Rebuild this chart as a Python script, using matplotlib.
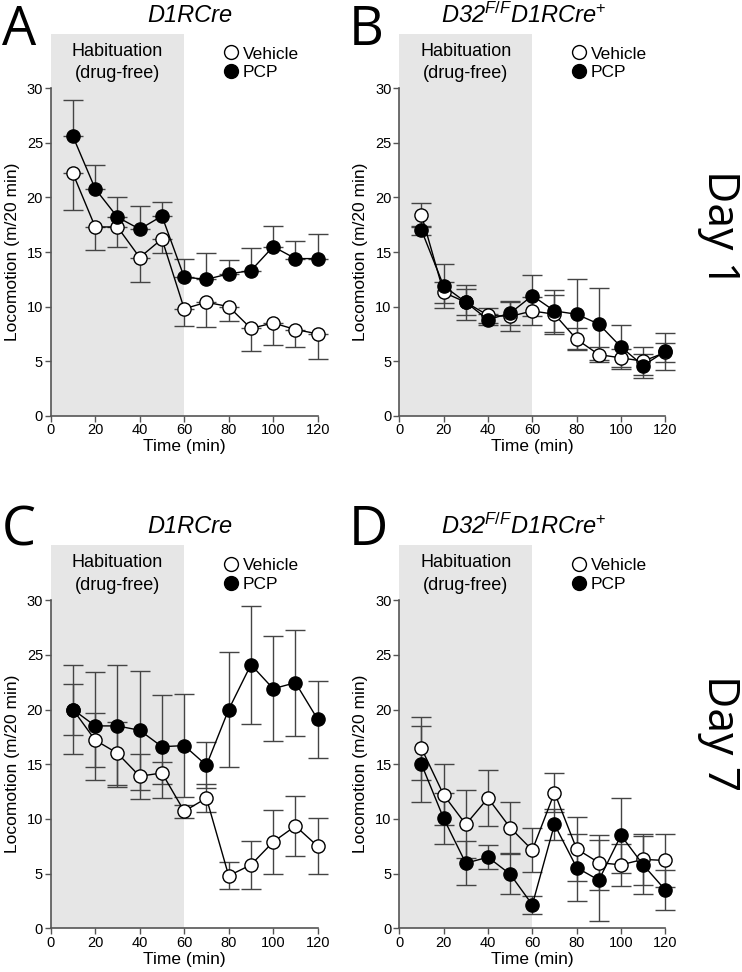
import matplotlib
matplotlib.use("Agg")
import matplotlib.pyplot as plt
from matplotlib.lines import Line2D
import numpy as np

plt.rcParams['font.family'] = ['Liberation Sans', 'DejaVu Sans']
plt.rcParams['mathtext.fontset'] = 'custom'
plt.rcParams['mathtext.it'] = 'Liberation Sans:italic'
plt.rcParams['mathtext.rm'] = 'Liberation Sans'

time_min = [10, 20, 30, 40, 50, 60, 70, 80, 90, 100, 110, 120]
x_ticks = [0, 20, 40, 60, 80, 100, 120]
y_ticks = [0, 5, 10, 15, 20, 25, 30]

# Panel A: D1RCre, Day 1
a_vehicle = [22.2, 17.3, 17.3, 14.5, 16.2, 9.8, 10.4, 10.0, 8.0, 8.5, 7.9, 7.5]
a_vehicle_err = [3.3, 2.1, 1.8, 2.2, 1.3, 1.6, 2.3, 1.35, 2.1, 2.0, 1.6, 2.3]
a_pcp = [25.6, 20.8, 18.2, 17.1, 18.3, 12.7, 12.5, 13.0, 13.3, 15.5, 14.4, 14.4]
a_pcp_err = [3.3, 2.2, 1.8, 2.1, 1.3, 1.7, 2.4, 1.3, 2.1, 1.9, 1.6, 2.3]

# Panel B: D32F/F D1RCre+, Day 1
b_vehicle = [18.4, 11.3, 10.4, 9.2, 9.1, 9.6, 9.3, 7.0, 5.6, 5.3, 5.0, 5.8]
b_vehicle_err = [1.1, 1.0, 1.2, 0.7, 1.3, 1.3, 1.8, 1.0, 0.7, 0.8, 1.3, 0.9]
b_pcp = [17.0, 11.9, 10.4, 8.8, 9.4, 11.0, 9.6, 9.3, 8.4, 6.3, 4.6, 5.9]
b_pcp_err = [0.4, 2.0, 1.6, 0.5, 1.1, 1.9, 1.9, 3.2, 3.3, 2.0, 1.1, 1.7]

# Panel C: D1RCre, Day 7
c_vehicle = [20.0, 17.2, 16.0, 13.9, 14.2, 10.7, 11.9, 4.8, 5.8, 7.9, 9.35, 7.5]
c_vehicle_err = [2.3, 2.5, 2.9, 2.05, 1.0, 0.6, 1.3, 1.25, 2.2, 2.95, 2.7, 2.55]
c_pcp = [20.0, 18.5, 18.5, 18.1, 16.6, 16.7, 14.9, 20.0, 24.1, 21.9, 22.45, 19.1]
c_pcp_err = [4.1, 4.9, 5.6, 5.45, 4.7, 4.7, 2.1, 5.3, 5.4, 4.8, 4.85, 3.55]

# Panel D: D32F/F D1RCre+, Day 7
d_vehicle = [16.45, 12.2, 9.5, 11.9, 9.2, 7.15, 12.4, 7.25, 6.0, 5.8, 6.3, 6.2]
d_vehicle_err = [2.85, 2.8, 3.1, 2.55, 2.35, 2.0, 1.8, 2.9, 2.5, 1.9, 2.3, 2.4]
d_pcp = [15.0, 10.05, 5.95, 6.5, 4.95, 2.15, 9.5, 5.55, 4.4, 8.5, 5.8, 3.5]
d_pcp_err = [3.5, 2.3, 2.0, 1.1, 1.8, 0.8, 1.45, 3.1, 3.7, 3.45, 2.65, 1.8]

titles = ['D1RCre', r'D32$^{F/F}$D1RCre$^{+}$', 'D1RCre', r'D32$^{F/F}$D1RCre$^{+}$']
letters = ['A', 'B', 'C', 'D']
day_labels = ['Day 1', 'Day 7']

W, H = 742, 972
fig = plt.figure(figsize=(W / 100, H / 100), dpi=100)

XMAX, YMAX = 125, 35

def axes_at(x0_px, x_per_min, y0_px, y_per_unit):
    left = x0_px / W
    width = XMAX * x_per_min / W
    bottom = (H - y0_px) / H
    height = YMAX * y_per_unit / H
    return fig.add_axes([left, bottom, width, height])

axA = axes_at(50.7, 2.225, 415.7, 10.91)
axB = axes_at(399.3, 2.217, 415.7, 10.91)
axC = axes_at(50.7, 2.225, 928.3, 10.94)
axD = axes_at(399.3, 2.217, 928.3, 10.94)

panels = [
    (axA, a_vehicle, a_vehicle_err, a_pcp, a_pcp_err, True),
    (axB, b_vehicle, b_vehicle_err, b_pcp, b_pcp_err, False),
    (axC, c_vehicle, c_vehicle_err, c_pcp, c_pcp_err, False),
    (axD, d_vehicle, d_vehicle_err, d_pcp, d_pcp_err, False),
]

spine_col = '#555555'
err_col = '#444444'

for i, (ax, v, ve, p, pe, one_sided) in enumerate(panels):
    ax.set_xlim(0, XMAX)
    ax.set_ylim(0, YMAX)
    ax.axvspan(0, 60, color='#e6e6e6', zorder=0, lw=0)
    ve = np.array(ve)
    pe = np.array(pe)
    if one_sided:
        v_yerr = [ve, np.zeros_like(ve)]
        p_yerr = [np.zeros_like(pe), pe]
    else:
        v_yerr = ve
        p_yerr = pe
    ax.errorbar(time_min, v, yerr=v_yerr, fmt='none', ecolor=err_col,
                elinewidth=1.0, capsize=7, capthick=1.0, zorder=2, clip_on=False)
    ax.errorbar(time_min, p, yerr=p_yerr, fmt='none', ecolor=err_col,
                elinewidth=1.0, capsize=7, capthick=1.0, zorder=2, clip_on=False)
    ax.plot(time_min, v, '-', color='black', lw=1.0, zorder=3,
            marker='o', ms=9.5, mfc='white', mec='black', mew=1.0, clip_on=False)
    ax.plot(time_min, p, '-', color='black', lw=1.0, zorder=4,
            marker='o', ms=9.5, mfc='black', mec='black', mew=1.0, clip_on=False)

    for s in ['top', 'right']:
        ax.spines[s].set_visible(False)
    for s in ['left', 'bottom']:
        ax.spines[s].set_color(spine_col)
        ax.spines[s].set_linewidth(1.2)
    ax.spines['left'].set_bounds(0, 30)
    ax.spines['bottom'].set_bounds(0, 120)
    ax.set_xticks(x_ticks)
    ax.set_yticks(y_ticks)
    ax.tick_params(direction='out', length=4, width=1.0, color=spine_col,
                   labelsize=10.5, pad=1.5)
    ax.set_xlabel('Time (min)', fontsize=12.5)
    ax.set_ylabel('Locomotion (m/20 min)', fontsize=12.5)
    ax.xaxis.set_label_coords(60 / XMAX, -0.062)
    ax.yaxis.set_label_coords(-0.112, 15 / YMAX)

    ax.text(30, 33.4, 'Habituation', ha='center', va='center', fontsize=13)
    ax.text(30, 31.35, '(drug-free)', ha='center', va='center', fontsize=13)

    handles = [Line2D([], [], ls='none', marker='o', ms=10, mfc='white', mec='black', mew=1.0),
               Line2D([], [], ls='none', marker='o', ms=10, mfc='black', mec='black', mew=1.0)]
    ax.legend(handles, ['Vehicle', 'PCP'], loc='center left',
              bbox_to_anchor=(77.8, 32.3), bbox_transform=ax.transData,
              frameon=False, fontsize=12.5, borderpad=0, borderaxespad=0,
              handlelength=0.8, handletextpad=0.3, labelspacing=0.2)

    tx = 0.5 if i in (0, 2) else 0.45
    ax.text(tx, 1.049, titles[i], transform=ax.transAxes, ha='center', va='center',
            fontsize=17, fontstyle='italic')

letter_pos = [(2, 45), (349, 45), (2, 545), (349, 545)]
for (lx, ly), L in zip(letter_pos, letters):
    fig.text(lx / W, 1 - ly / H, L, fontsize=39, family=['Open Sans', 'DejaVu Sans'],
             ha='left', va='baseline')

for (cy, lab) in zip([228, 733], day_labels):
    fig.text(719 / W, 1 - cy / H, lab, fontsize=32, family=['Open Sans', 'DejaVu Sans'],
             rotation=-90, ha='center', va='center')

fig.savefig('out.png', dpi=100)
